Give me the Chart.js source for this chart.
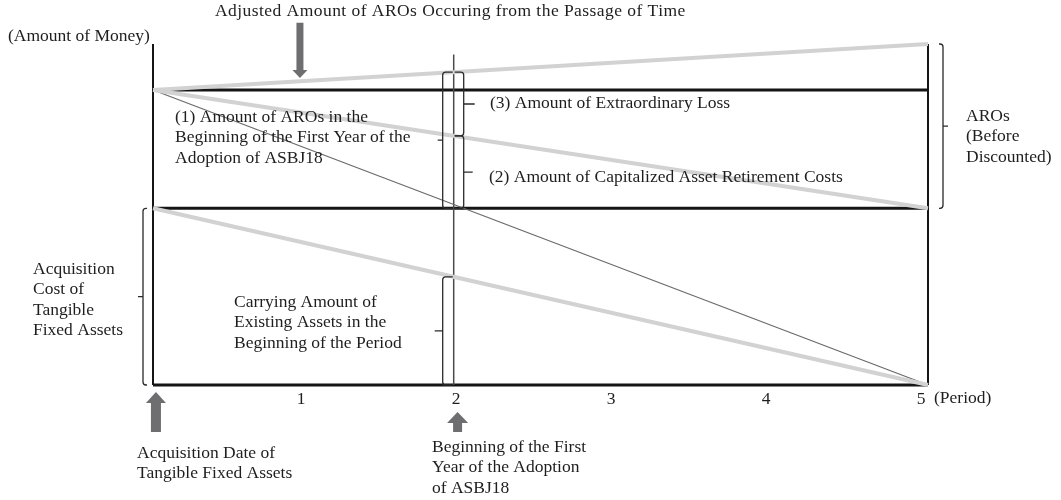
<!DOCTYPE html>
<html>
<head>
<meta charset="utf-8">
<script src="https://cdn.jsdelivr.net/npm/chart.js@4.4.1/dist/chart.umd.min.js"></script>
<style>
  html, body { margin:0; padding:0; background:#fff; }
  canvas { display:block; }
</style>
</head>
<body>
<canvas id="c" width="1061" height="500"></canvas>
<script>
// ---------- data ----------
const periods = [0, 1, 2, 3, 4, 5];
const tickLabels = ['', '1', '2', '3', '4', '5'];
const adoption = 1.94;        // beginning of first year of ASBJ18 adoption
const acqCost = 100;          // acquisition cost of tangible fixed assets
const aroStart = 167;         // AROs at the beginning (discounted)
const aroEnd = 193;           // AROs before discounted
const adoptionTop = 187;

// [x0, y0, x1, y1]
const grayLines = [
  [0, aroStart, 5, aroEnd],   // accretion (passage of time)
  [0, aroStart, 5, acqCost],  // asset retirement costs
  [0, acqCost, 5, 0]          // existing assets
];
const blackLines = [
  [0, 0, 5, 0],
  [0, acqCost, 5, acqCost],
  [0, aroStart, 5, aroStart]
];
const sideLines = [
  [0, 0, 0, aroEnd],
  [5, 0, 5, aroEnd]
];
const thinLine = [0, aroStart, 5, 0];
const adoptionLine = [adoption, 0, adoption, adoptionTop];

const at = (l, x) => l[1] + (l[3] - l[1]) * (x - l[0]) / (l[2] - l[0]);

// ---------- chart ----------
function seg(l, color, width, order) {
  return {
    data: [{x:l[0], y:l[1]}, {x:l[2], y:l[3]}],
    showLine: true, borderColor: color, borderWidth: width,
    pointRadius: 0, clip: false, order: order
  };
}

const datasets = [
  ...grayLines.map(l => seg(l, '#d2d2d2', 4, 1)),
  seg(thinLine, '#6a6a6a', 1.2, 2),
  seg(adoptionLine, '#4a4a4a', 1.5, 2),
  ...blackLines.map(l => seg(l, '#151515', 3, 3)),
  ...sideLines.map(l => seg(l, '#151515', 2, 3))
];

const FONT = '17.5px "Liberation Serif", "DejaVu Serif", serif';

// [lines, left, first line middle, letter spacing]
const texts = [
  [['Adjusted Amount of AROs Occuring from the Passage of Time'], 215, 11, '0.45px'],
  [['(Amount of Money)'], 8, 36],
  [['(1) Amount of AROs in the', 'Beginning of the First Year of the', 'Adoption of ASBJ18'], 175, 117],
  [['(3) Amount of Extraordinary Loss'], 490, 103],
  [['(2) Amount of Capitalized Asset Retirement Costs'], 489, 177],
  [['AROs', '(Before', 'Discounted)'], 966, 116],
  [['Acquisition', 'Cost of', 'Tangible', 'Fixed Assets'], 33, 269],
  [['Carrying Amount of', 'Existing Assets in the', 'Beginning of the Period'], 234, 302],
  [['(Period)'], 934, 398],
  [['Acquisition Date of', 'Tangible Fixed Assets'], 137, 453],
  [['Beginning of the First', 'Year of the Adoption', 'of ASBJ18'], 432, 447]
];

// brackets: x value, pixel offset, y range, tick direction, hook, tick length
const brackets = [
  {x:5, off:15, y0:acqCost, y1:aroEnd, dir:1, hook:4, tick:5},
  {x:0, off:-10, y0:0, y1:acqCost, dir:-1, hook:4, tick:5},
  {x:adoption, off:-11, y0:0, y1:at(grayLines[2], adoption), dir:-1, hook:10, tick:8},
  {x:adoption, off:-11, y0:acqCost, y1:at(grayLines[0], adoption), dir:-1, hook:10, tick:5},
  {x:adoption, off:10, y0:at(grayLines[1], adoption), y1:at(grayLines[0], adoption), dir:1, hook:9, tick:11},
  {x:adoption, off:10, y0:acqCost, y1:at(grayLines[1], adoption), dir:1, hook:9, tick:9}
];

// arrows: x value, tail y, tip y, shaft/head widths
const arrows = [
  {x:0.948, from:205, to:173.8, shaft:7, head:15, len:8},
  {x:0.019, from:-26.6, to:-4, shaft:10, head:20, len:11},
  {x:1.965, from:-26.6, to:-15.3, shaft:9, head:21, len:11}
];

const extras = {
  id: 'extras',
  afterDatasetsDraw(chart) {
    const {ctx, scales:{x, y}} = chart;
    ctx.save();
    // brackets
    ctx.strokeStyle = '#2a2a2a';
    ctx.lineWidth = 1.3;
    brackets.forEach(b => {
      const px = x.getPixelForValue(b.x) + b.off;
      const top = y.getPixelForValue(b.y1), bot = y.getPixelForValue(b.y0);
      const mid = (top + bot) / 2, r = 3, d = b.dir;
      ctx.beginPath();
      ctx.moveTo(px - d * b.hook, top);
      ctx.lineTo(px - d * r, top);
      ctx.quadraticCurveTo(px, top, px, top + r);
      ctx.lineTo(px, bot - r);
      ctx.quadraticCurveTo(px, bot, px - d * r, bot);
      ctx.lineTo(px - d * b.hook, bot);
      ctx.moveTo(px, mid);
      ctx.lineTo(px + d * b.tick, mid);
      ctx.stroke();
    });
    // arrows
    ctx.fillStyle = '#6e6e70';
    arrows.forEach(a => {
      const cx = x.getPixelForValue(a.x);
      const t = y.getPixelForValue(a.from), p = y.getPixelForValue(a.to);
      const s = Math.sign(p - t);
      const hb = p - s * a.len;
      ctx.beginPath();
      ctx.moveTo(cx - a.shaft / 2, t);
      ctx.lineTo(cx + a.shaft / 2, t);
      ctx.lineTo(cx + a.shaft / 2, hb);
      ctx.lineTo(cx + a.head / 2, hb);
      ctx.lineTo(cx, p);
      ctx.lineTo(cx - a.head / 2, hb);
      ctx.lineTo(cx - a.shaft / 2, hb);
      ctx.closePath();
      ctx.fill();
    });
    // texts
    ctx.fillStyle = '#1e1e1e';
    ctx.font = FONT;
    ctx.textBaseline = 'middle';
    ctx.textAlign = 'left';
    texts.forEach(([lines, tx, ty, ls]) => {
      ctx.letterSpacing = ls || '0px';
      lines.forEach((s, i) => ctx.fillText(s, tx, ty + i * 20.5));
    });
    ctx.restore();
  }
};

new Chart(document.getElementById('c'), {
  type: 'scatter',
  data: { datasets },
  options: {
    responsive: false,
    animation: false,
    devicePixelRatio: 1,
    layout: { padding: { left:153, right:133, top:44, bottom:0 } },
    plugins: { legend:{display:false}, tooltip:{enabled:false} },
    scales: {
      x: {
        type: 'linear', min: 0, max: 5,
        afterFit: s => { s.height = 115; },
        afterBuildTicks: s => { s.ticks = periods.map(v => ({value:v})); },
        grid: { display:false }, border: { display:false },
        ticks: {
          callback: (v, i) => tickLabels[i],
          color: '#1e1e1e', padding: -4, labelOffset: -7, maxRotation: 0,
          font: { family:'"Liberation Serif", serif', size:17.5 }
        }
      },
      y: { type:'linear', min:0, max:aroEnd, display:false }
    }
  },
  plugins: [extras]
});
</script>
</body>
</html>
